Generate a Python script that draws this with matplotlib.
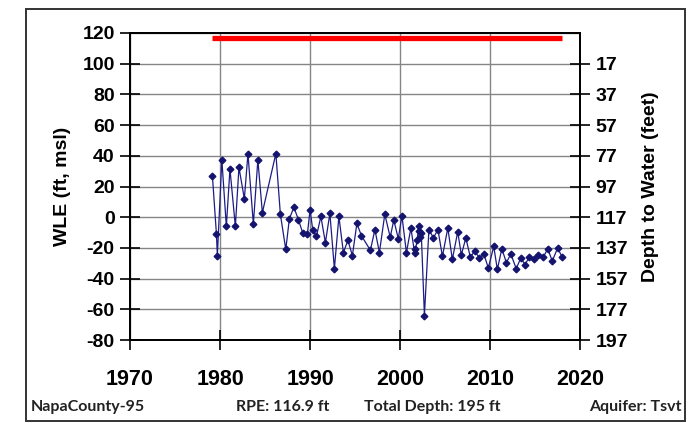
import matplotlib.pyplot as plt
from matplotlib.patches import Rectangle

# well info
well_name = "NapaCounty-95"
rpe = 116.9
total_depth = 195
aquifer = "Tsvt"

# measurement dates (decimal years) and water level elevation (ft, msl)
years = [
    1979.15, 1979.6, 1979.7, 1980.2, 1980.7, 1981.1, 1981.7, 1982.1, 1982.7, 1983.1,
    1983.7, 1984.2, 1984.7, 1986.2, 1986.7, 1987.3, 1987.7, 1988.2, 1988.7, 1989.2,
    1989.7, 1990.0, 1990.3, 1990.7, 1991.2, 1991.7, 1992.2, 1992.7, 1993.2, 1993.7,
    1994.2, 1994.7, 1995.2, 1995.7, 1996.7, 1997.2, 1997.7, 1998.3, 1998.9, 1999.3,
    1999.8, 2000.2, 2000.7, 2001.2, 2001.6, 2001.7, 2001.9, 2002.05, 2002.15, 2002.25,
    2002.35, 2002.7, 2003.2, 2003.7, 2004.2, 2004.7, 2005.3, 2005.8, 2006.4, 2006.8,
    2007.3, 2007.8, 2008.3, 2008.8, 2009.3, 2009.8, 2010.4, 2010.8, 2011.3, 2011.8,
    2012.3, 2012.9, 2013.4, 2013.9, 2014.3, 2014.9, 2015.3, 2015.9, 2016.4, 2016.9,
    2017.5, 2018.0,
]
wle = [
    27, -11, -25, 37.5, -6, 31.5, -6, 32.5, 12, 41.5,
    -4.5, 37.5, 3, 41.5, 2, -21, -1, 6.5, -1.5, -10.5,
    -11, 5, -8.5, -12.5, 0.5, -16.5, 2.5, -33.5, 0.5, -23,
    -15, -25, -4, -12, -21.5, -8, -23, 2, -13, -1.8,
    -14, 1, -23, -7, -23, -21, -15, -6, -9, -13,
    -10, -64, -8, -13.5, -8, -25.5, -7, -27.5, -9.5, -24.5,
    -13.5, -26, -22, -26.5, -24, -33, -19, -34, -20.5, -29.5,
    -24, -33.5, -26.5, -31, -26, -27.5, -24.5, -26, -20.5, -28.5,
    -20, -26,
]

x_ticks = [1970, 1980, 1990, 2000, 2010, 2020]
y_ticks = [-80, -60, -40, -20, 0, 20, 40, 60, 80, 100, 120]

plt.rcParams["font.family"] = ["Liberation Sans", "DejaVu Sans"]
plt.rcParams["axes.unicode_minus"] = False

fig = plt.figure(figsize=(6.99, 4.23), dpi=100)
ax = fig.add_axes([0.186, 0.196, 0.644, 0.726])

ax.plot(years, wle, color="#1c1c86", linewidth=0.9, marker="D", markersize=3.4,
        markerfacecolor="#14146e", markeredgecolor="#14146e", zorder=3)
ax.plot([min(years), max(years)], [rpe, rpe], color="#ff0000", linewidth=3.8,
        solid_capstyle="butt", zorder=4)

ax.set_xlim(1970, 2020)
ax.set_ylim(-80, 120)
ax.set_xticks(x_ticks)
ax.set_yticks(y_ticks)
ax.grid(True, color="#858585", linewidth=1.0)
ax.set_axisbelow(True)
for s in ax.spines.values():
    s.set_linewidth(1.3)

ax.tick_params(axis="y", direction="inout", length=14, width=1.2, pad=4,
               labelsize=14)
ax.tick_params(axis="x", direction="inout", length=14, width=1.2, pad=14,
               labelsize=15.5)
for lab in ax.get_xticklabels() + ax.get_yticklabels():
    lab.set_fontweight("bold")
ax.set_ylabel("WLE (ft, msl)", fontsize=14, fontweight="bold", labelpad=8)

# depth to water on the right, measured down from RPE
ax2 = ax.twinx()
ax2.set_ylim(ax.get_ylim())
depth_ticks = y_ticks[:-1]
ax2.set_yticks(depth_ticks)
ax2.set_yticklabels([f"{rpe - v:.0f}" for v in depth_ticks], fontweight="bold")
ax2.tick_params(axis="y", direction="inout", length=14, width=1.2, pad=4,
                labelsize=14)
ax2.set_ylabel("Depth to Water (feet)", fontsize=14, fontweight="bold", labelpad=10)
for s in ax2.spines.values():
    s.set_linewidth(1.3)

# outer frame and footer
fig.patches.append(Rectangle((0.0372, 0.005), 0.943, 0.974, transform=fig.transFigure,
                             fill=False, edgecolor="#333333", linewidth=1.4))
foot = dict(fontsize=11.5, fontweight="bold", family=["Lato", "DejaVu Sans"],
            color="#222222", va="center")
fy = (423 - 407) / 423
fig.text(31 / 699, fy, well_name, ha="left", **foot)
fig.text(236 / 699, fy, f"RPE: {rpe} ft", ha="left", **foot)
fig.text(364 / 699, fy, f"Total Depth: {total_depth} ft", ha="left", **foot)
fig.text(682 / 699, fy, f"Aquifer: {aquifer}", ha="right", **foot)

fig.savefig("out.png", dpi=100)
